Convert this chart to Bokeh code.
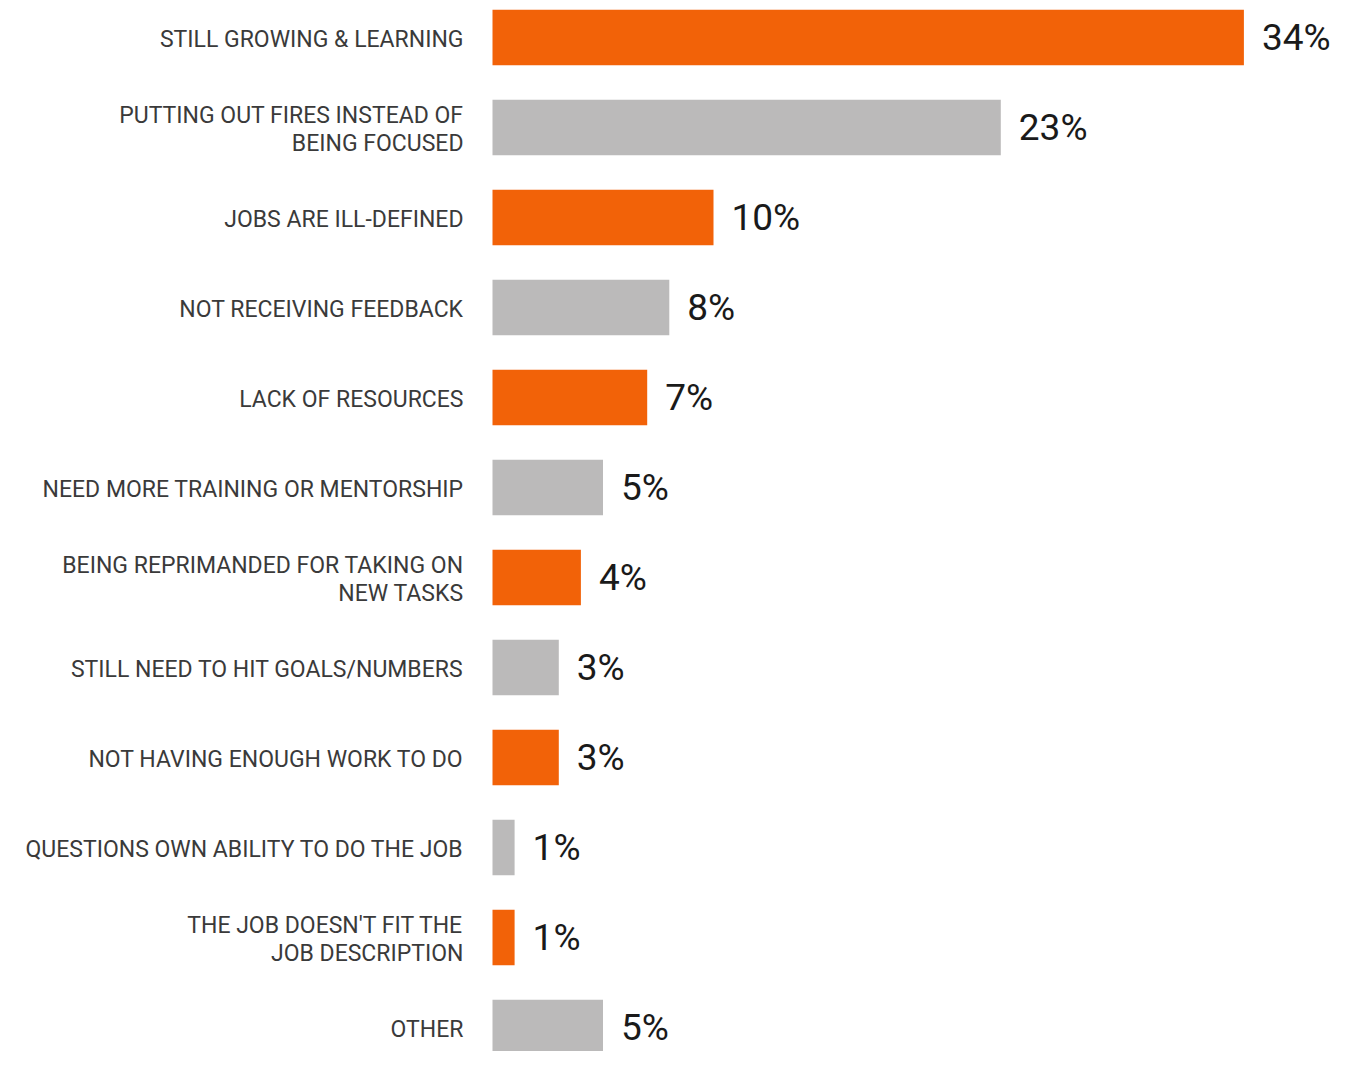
from bokeh.plotting import figure
from bokeh.models import Range1d, ColumnDataSource
from bokeh.core.properties import value
from bokeh.embed import file_html
from bokeh.resources import INLINE

categories = [
    "STILL GROWING & LEARNING",
    "PUTTING OUT FIRES INSTEAD OF\nBEING FOCUSED",
    "JOBS ARE ILL-DEFINED",
    "NOT RECEIVING FEEDBACK",
    "LACK OF RESOURCES",
    "NEED MORE TRAINING OR MENTORSHIP",
    "BEING REPRIMANDED FOR TAKING ON\nNEW TASKS",
    "STILL NEED TO HIT GOALS/NUMBERS",
    "NOT HAVING ENOUGH WORK TO DO",
    "QUESTIONS OWN ABILITY TO DO THE JOB",
    "THE JOB DOESN'T FIT THE\nJOB DESCRIPTION",
    "OTHER",
]
values = [34, 23, 10, 8, 7, 5, 4, 3, 3, 1, 1, 5]
value_labels = ["34%", "23%", "10%", "8%", "7%", "5%", "4%", "3%", "3%", "1%", "1%", "5%"]

ORANGE = "#F26208"
GRAY = "#BBBABA"
colors = [ORANGE if i % 2 == 0 else GRAY for i in range(len(values))]

W, H = 1336, 1051
zero_px = 492.0
px_per_unit = 22.1
top_px = 37.0
step_px = 90.0

x_start = -zero_px / px_per_unit
x_end = (W - zero_px) / px_per_unit
y_top = -top_px / step_px
y_bottom = (H - top_px) / step_px

idx = list(range(len(values)))
src = ColumnDataSource(dict(y=idx, v=values, c=colors, cat=categories, lab=value_labels,
                            zero=[0] * len(values)))

p = figure(width=W, height=H, output_backend="svg", toolbar_location=None,
           x_range=Range1d(x_start, x_end), y_range=Range1d(y_bottom, y_top),
           min_border=0, min_border_left=0, min_border_right=0,
           min_border_top=0, min_border_bottom=0)
p.axis.visible = False
p.grid.visible = False
p.outline_line_color = None
p.background_fill_color = "white"
p.border_fill_color = "white"

p.hbar(y="y", left="zero", right="v", height=55.5 / step_px, fill_color="c",
       line_color=None, source=src)

label_x = (463 - zero_px) / px_per_unit
p.text(x=label_x, y="y", text="cat", source=src, text_align="right", text_baseline="middle",
       text_font=value("Roboto"), text_font_size="23px", text_color="#3a3a3a",
       text_line_height=1.05, y_offset=2)

p.text(x="v", y="y", text="lab", source=src, x_offset=18, text_align="left",
       text_baseline="middle", text_font=value("Roboto"), text_font_size="37px",
       text_color="#1a1a1a")

open("out.html", "w").write(file_html(p, INLINE))
